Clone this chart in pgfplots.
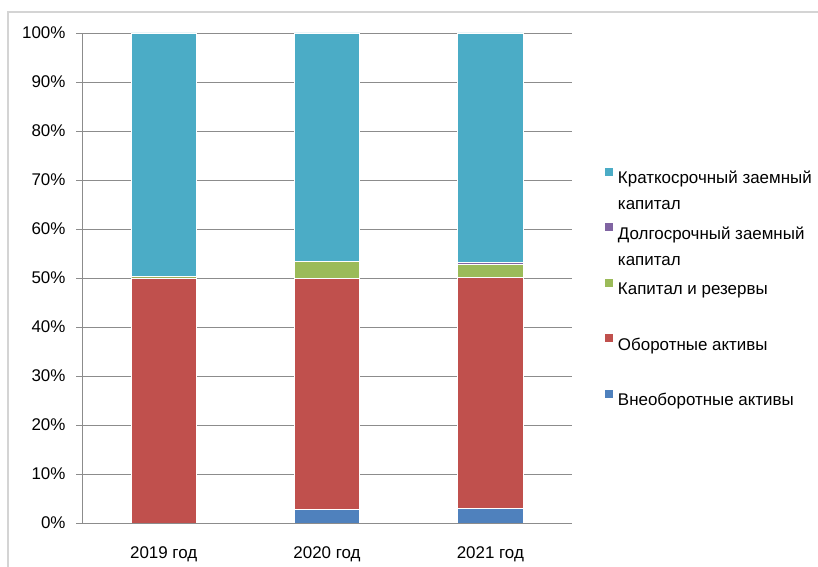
\documentclass[border=0pt]{standalone}
\usepackage{pgfplots}
\pgfplotsset{compat=1.18}
\usepackage{fontspec}
\setmainfont{Liberation Sans}

\definecolor{cShort}{HTML}{4BACC6}
\definecolor{cLong}{HTML}{8064A2}
\definecolor{cCap}{HTML}{9BBB59}
\definecolor{cCur}{HTML}{C0504D}
\definecolor{cFix}{HTML}{4F81BD}
\definecolor{axgray}{HTML}{8C8C8C}
\definecolor{framegray}{HTML}{D4D4D4}

\begin{document}
\begin{tikzpicture}[x=1bp,y=1bp]
% рамка области диаграммы
\draw[framegray, line width=1.2bp] (8,0) -- (8,555) -- (818,555);
\begin{axis}[
    at={(82bp,44bp)}, anchor=south west,
    scale only axis, width=490bp, height=490bp,
    ybar stacked, bar width=0.4,
    xmin=-0.5, xmax=2.5, ymin=0, ymax=100,
    axis x line*=bottom, axis y line*=left,
    axis line style={axgray, line width=0.9bp},
    xtick={0,1,2},
    xticklabels={2019 год,2020 год,2021 год},
    x tick style={draw=none},
    extra x ticks={-0.5,0.5,1.5,2.5},
    extra x tick labels={},
    extra x tick style={tick align=outside, major tick length=6bp,
        tick style={draw=axgray, line width=0.9bp}},
    ytick={0,10,...,100},
    yticklabels={0\%,10\%,20\%,30\%,40\%,50\%,60\%,70\%,80\%,90\%,100\%},
    y tick style={draw=axgray, line width=0.9bp},
    tick align=outside, major tick length=6bp,
    ymajorgrids, grid style={axgray, line width=0.9bp},
    tick label style={font=\fontsize{17}{20}\selectfont, text=black},
    y tick label style={xshift=-7bp},
    x tick label style={yshift=-14bp},
    every axis plot/.append style={draw=white, line width=0.8bp},
    legend cell align=left,
    legend style={at={(1.0673,0.7255)}, anchor=north west, draw=none, fill=none,
        inner sep=0pt, row sep=9.3bp, column sep=5bp,
        font=\fontsize{17}{20}\selectfont,
        nodes={inner sep=0pt, text height=13bp, text depth=4bp}},
]
% легенда (строки с шагом как в оригинале)
\addlegendimage{legend image code/.code={\fill[cShort] (0bp,4bp) rectangle (7bp,11bp);}}
\addlegendentry{Краткосрочный заемный}
\addlegendimage{empty legend}
\addlegendentry{капитал}
\addlegendimage{legend image code/.code={\fill[cLong] (0bp,4bp) rectangle (7bp,11bp);}}
\addlegendentry{Долгосрочный заемный}
\addlegendimage{empty legend}
\addlegendentry{капитал}
\addlegendimage{legend image code/.code={\fill[cCap] (0bp,4bp) rectangle (7bp,11bp);}}
\addlegendentry{Капитал и резервы}
\addlegendimage{empty legend}
\addlegendentry{\mbox{}}
\addlegendimage{legend image code/.code={\fill[cCur] (0bp,4bp) rectangle (7bp,11bp);}}
\addlegendentry{Оборотные активы}
\addlegendimage{empty legend}
\addlegendentry{\mbox{}}
\addlegendimage{legend image code/.code={\fill[cFix] (0bp,4bp) rectangle (7bp,11bp);}}
\addlegendentry{Внеоборотные активы}

% Внеоборотные активы
\addplot[fill=cFix] coordinates {(0,0) (1,2.7) (2,2.9)};
% Оборотные активы
\addplot[fill=cCur] coordinates {(0,50.0) (1,47.2) (2,47.2)};
% Капитал и резервы
\addplot[fill=cCap] coordinates {(0,0.3) (1,3.4) (2,2.65)};
% Долгосрочный заемный капитал
\addplot[fill=cLong] coordinates {(0,0) (1,0.1) (2,0.4)};
% Краткосрочный заемный капитал
\addplot[fill=cShort] coordinates {(0,49.7) (1,46.6) (2,46.85)};
\end{axis}
\pgfresetboundingbox
\path[use as bounding box] (0,0) rectangle (818,567);
\end{tikzpicture}
\end{document}
